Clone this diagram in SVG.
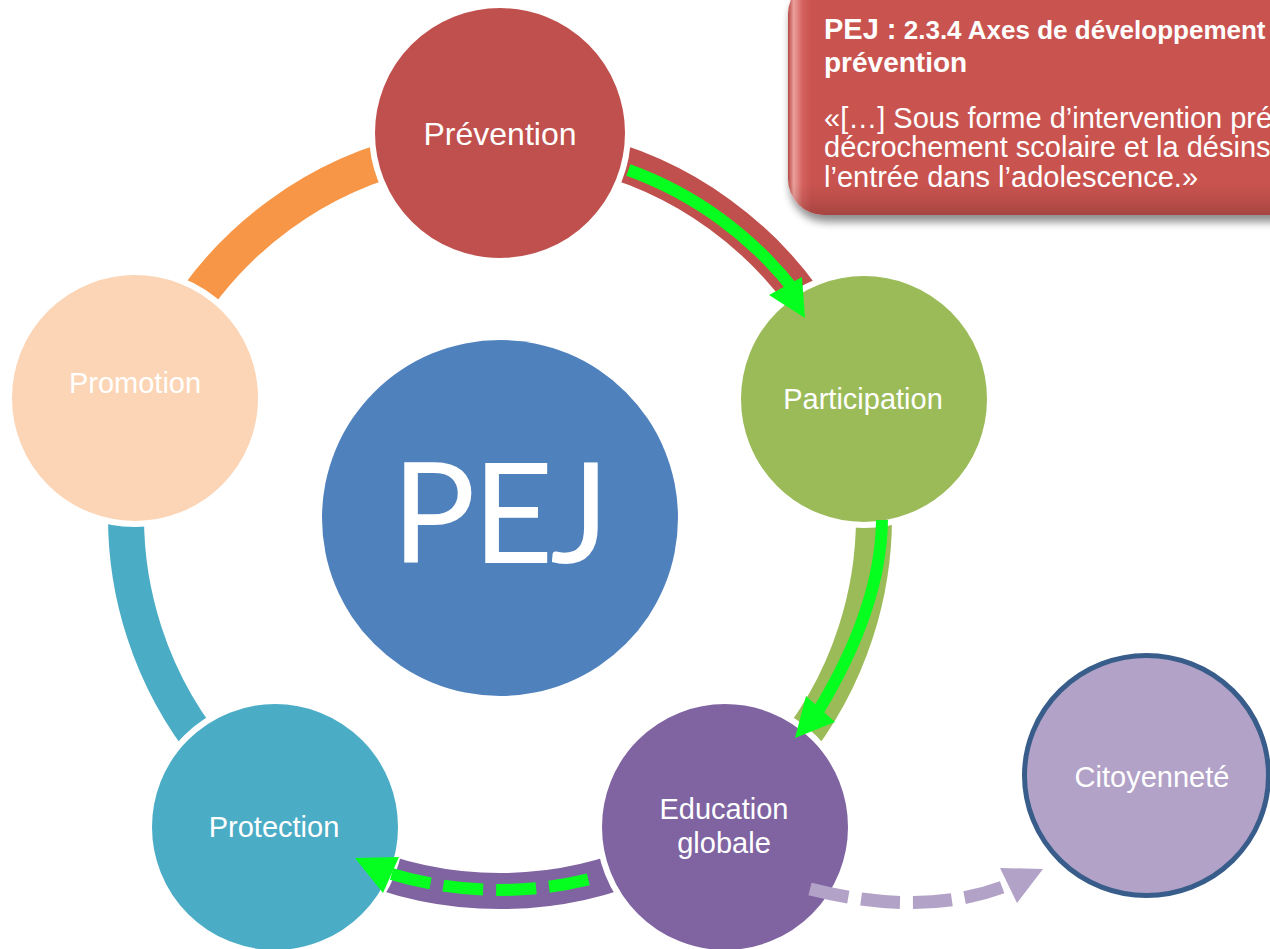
<svg xmlns="http://www.w3.org/2000/svg" width="1270" height="949" viewBox="0 0 1270 949">
  <style>
    .lbl { font-family: "Liberation Sans", Arial, sans-serif; font-size: 29px; fill: #ffffff; text-anchor: middle; }
    .arc { fill: none; stroke-width: 36; stroke-linecap: butt; }
    .node { stroke: #ffffff; stroke-width: 6; }
    .grn { fill: none; stroke: #05FF1E; stroke-width: 12; stroke-linecap: butt; }
    .grnHead { fill: #05FF1E; }
    .cb { font-family: "Liberation Sans", Arial, sans-serif; fill: #ffffff; }
  </style>
  <defs>
    <filter id="shadow" x="-10%" y="-20%" width="130%" height="150%">
      <feGaussianBlur in="SourceAlpha" stdDeviation="4"/>
      <feOffset dx="2" dy="7" result="b"/>
      <feComponentTransfer><feFuncA type="linear" slope="0.45"/></feComponentTransfer>
      <feMerge><feMergeNode/><feMergeNode in="SourceGraphic"/></feMerge>
    </filter>
    <linearGradient id="cbH" x1="788" y1="0" x2="1270" y2="0" gradientUnits="userSpaceOnUse">
      <stop offset="0" stop-color="#B84744"/>
      <stop offset="0.012" stop-color="#EBA09C"/>
      <stop offset="0.03" stop-color="#D5625E"/>
      <stop offset="0.05" stop-color="#C9524F"/>
      <stop offset="1" stop-color="#C9524F"/>
    </linearGradient>
    <linearGradient id="cbV" x1="0" y1="-22" x2="0" y2="216" gradientUnits="userSpaceOnUse">
      <stop offset="0" stop-color="#000000" stop-opacity="0"/>
      <stop offset="0.86" stop-color="#000000" stop-opacity="0"/>
      <stop offset="0.93" stop-color="#000000" stop-opacity="0.07"/>
      <stop offset="1" stop-color="#000000" stop-opacity="0.18"/>
    </linearGradient>
    <clipPath id="canvasClip"><rect x="0" y="0" width="1270" height="949"/></clipPath>
  </defs>

  <rect x="0" y="0" width="1270" height="949" fill="#ffffff"/>

  <!-- connectors -->
  <g id="connectors">
    <path class="arc" stroke="#F79646" d="M 176.1 330 A 374 374 0 0 1 422.2 151.2"/>
    <path class="arc" stroke="#C0504D" d="M 577.8 151.2 A 374 374 0 0 1 823.9 330"/>
    <path class="arc" stroke="#9BBB59" d="M 871.9 477.9 A 374 374 0 0 1 777.9 767.2"/>
    <path class="arc" stroke="#8064A2" d="M 652.1 858.7 A 374 374 0 0 1 347.9 858.7"/>
    <path class="arc" stroke="#4BACC6" d="M 222.1 767.2 A 374 374 0 0 1 128.1 477.9"/>
  </g>

  <!-- nodes -->
  <g id="node-pej">
    <circle cx="500" cy="518" r="178" fill="#4F81BD"/>
    <text x="499" y="563" font-family="Lato, 'Noto Sans', sans-serif" font-size="140" letter-spacing="-3" fill="#ffffff" text-anchor="middle">PEJ</text>
  </g>
  <g id="node-prevention">
    <circle class="node" cx="500" cy="133" r="128" fill="#C0504D"/>
    <text class="lbl" x="500" y="145" style="font-size:32px">Prévention</text>
  </g>
  <g id="node-participation">
    <circle class="node" cx="864" cy="399" r="126" fill="#9BBB59"/>
    <text class="lbl" x="863" y="409">Participation</text>
  </g>
  <g id="node-education">
    <circle class="node" cx="725" cy="827" r="126" fill="#8064A2"/>
    <text class="lbl" x="724" y="819">Education</text>
    <text class="lbl" x="724" y="853">globale</text>
  </g>
  <g id="node-protection">
    <circle class="node" cx="275" cy="827" r="126" fill="#4BACC6"/>
    <text class="lbl" x="274" y="837">Protection</text>
  </g>
  <g id="node-promotion">
    <circle class="node" cx="135" cy="398" r="126" fill="#FBD5B5"/>
    <text class="lbl" x="135" y="393">Promotion</text>
  </g>
  <g id="node-citoyennete">
    <ellipse cx="1146.5" cy="775.5" rx="122" ry="120" fill="#B2A2C7" stroke="#385D8A" stroke-width="5"/>
    <text class="lbl" x="1152" y="787">Citoyenneté</text>
  </g>

  <!-- highlighted arrows -->
  <g id="arrows">
    <path class="grn" d="M 628.4 170 A 370 370 0 0 1 795.5 291.9"/>
    <polygon class="grnHead" points="769,295 802,277 805,318"/>
    <path class="grn" d="M 882 520 Q 881 608 817 713"/>
    <polygon class="grnHead" points="806,696 835,722 795,738"/>
    <path class="grn" stroke-dasharray="40 13" d="M 588.3 879.4 A 373 373 0 0 1 391.6 873.9"/>
    <polygon class="grnHead" points="355,858 399,857 383,893"/>
    <path fill="none" stroke="#B2A2C7" stroke-width="13" stroke-dasharray="39 13" d="M 810 889 Q 925 918 1008 885"/>
    <polygon fill="#B2A2C7" points="1000,868 1043,869 1017,903"/>
  </g>

  <!-- callout -->
  <g id="callout" clip-path="url(#canvasClip)">
    <rect x="788" y="-22" width="540" height="237" rx="36" fill="url(#cbH)" filter="url(#shadow)"/>
    <rect x="788" y="-22" width="540" height="237" rx="36" fill="url(#cbV)"/>
    <text class="cb" x="824" y="39" font-weight="bold"><tspan font-size="29">PEJ :</tspan><tspan font-size="26"> 2.3.4 Axes de développement</tspan></text>
    <text class="cb" x="824" y="72" font-weight="bold" font-size="28">prévention</text>
    <text class="cb" x="824" y="128" font-size="29">«[…] Sous forme d’intervention pré</text>
    <text class="cb" x="824" y="157" font-size="29">décrochement scolaire et la désins</text>
    <text class="cb" x="824" y="187" font-size="29">l’entrée dans l’adolescence.»</text>
  </g>
</svg>
